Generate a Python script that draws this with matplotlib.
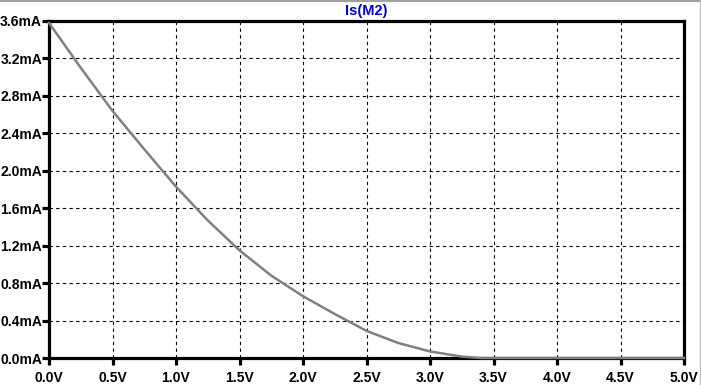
import numpy as np
import matplotlib
matplotlib.use('Agg')
import matplotlib.pyplot as plt
from matplotlib.lines import Line2D

# sweep voltage (V) and source current of M2 (mA)
volts = [0.0, 0.25, 0.5, 0.75, 1.0, 1.25, 1.5, 1.75, 2.0, 2.25, 2.5, 2.75,
         3.0, 3.25, 3.4, 5.0]
is_m2 = [3.58, 3.10, 2.64, 2.23, 1.83, 1.47, 1.15, 0.88, 0.66, 0.47, 0.29,
         0.16, 0.07, 0.015, 0.0, 0.0]

xticks = [0.0, 0.5, 1.0, 1.5, 2.0, 2.5, 3.0, 3.5, 4.0, 4.5, 5.0]
yticks = [0.0, 0.4, 0.8, 1.2, 1.6, 2.0, 2.4, 2.8, 3.2, 3.6]

plt.rcParams['font.family'] = ['Liberation Sans', 'DejaVu Sans']

fig = plt.figure(figsize=(7.01, 3.85), dpi=100)
ax = fig.add_axes([49/701, 1-358/385, 635/701, 337/385])

ax.plot(volts, is_m2, color='#808080', lw=1.8, zorder=5, clip_on=False)

ax.set_xlim(0, 5)
ax.set_ylim(0, 3.6)
ax.set_xticks(xticks)
ax.set_yticks(yticks)
ax.set_xticklabels(['%.1fV' % v for v in xticks])
ax.set_yticklabels(['%.1fmA' % v for v in yticks])
ax.grid(True, color='black', linestyle=(0, (3, 3)), lw=0.8)

for s in ax.spines.values():
    s.set_linewidth(2.3)
ax.tick_params(axis='both', length=5, width=2.3, color='black',
               labelsize=10)
ax.tick_params(axis='y', pad=0)
ax.tick_params(axis='x', pad=4)
for lab in ax.get_xticklabels() + ax.get_yticklabels():
    lab.set_fontweight('bold')

ax.set_title('Is(M2)', color='#0000d0', fontsize=10.5, fontweight='bold', pad=4)

# window frame lines
fig.add_artist(Line2D([0, 1], [1-1/385, 1-1/385], color='#a0a0a0', lw=1.5,
                      transform=fig.transFigure))
fig.add_artist(Line2D([699.5/701, 699.5/701], [0, 1], color='#c0c0c0', lw=1,
                      transform=fig.transFigure))

fig.savefig('out.png', dpi=100)
